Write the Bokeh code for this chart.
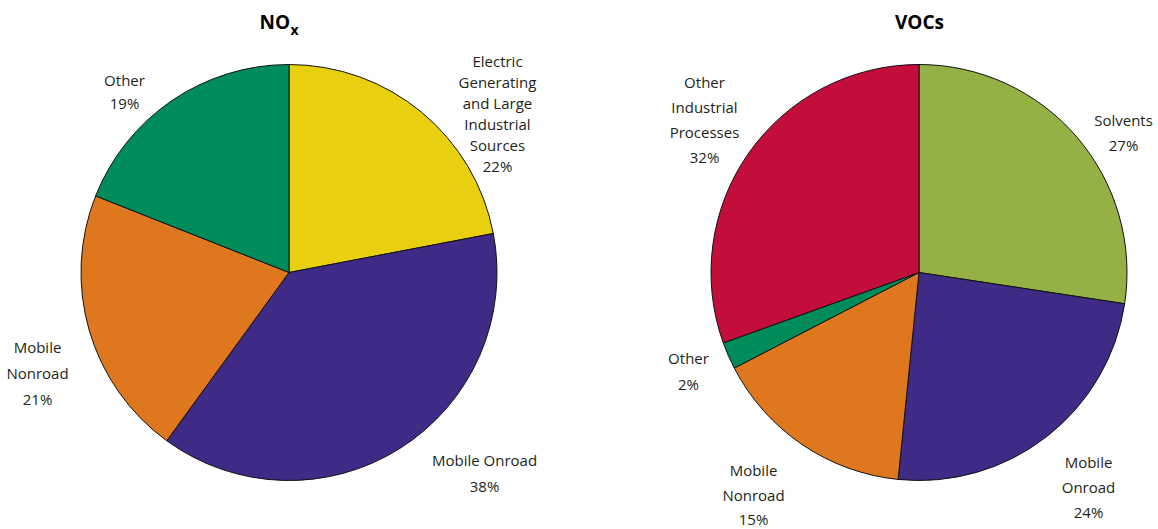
import math
from bokeh.plotting import figure
from bokeh.models import Range1d, ColumnDataSource
from bokeh.core.properties import value
from bokeh.embed import file_html
from bokeh.resources import INLINE

W, H = 1158, 529

# ---- data ----
nox_categories = ["Electric Generating and Large Industrial Sources", "Mobile Onroad", "Mobile Nonroad", "Other"]
nox_shares = [22, 38, 21, 19]
nox_labels = ["22%", "38%", "21%", "19%"]
nox_colors = ["#E8D010", "#3F2A86", "#DE771D", "#008C5A"]

voc_categories = ["Solvents", "Mobile Onroad", "Mobile Nonroad", "Other", "Other Industrial Processes"]
voc_shares = [27.4, 24.2, 15.8, 2.1, 30.5]   # slice sizes as drawn
voc_labels = ["27%", "24%", "15%", "2%", "32%"]
voc_colors = ["#93B145", "#3F2A86", "#DE771D", "#008C5A", "#C30D3B"]

FONT = "Open Sans"

p = figure(width=W, height=H, x_range=Range1d(0, W), y_range=Range1d(0, H),
           output_backend="svg", toolbar_location=None, min_border=0)
p.axis.visible = False
p.grid.visible = False
p.outline_line_color = None
p.background_fill_color = "white"
p.border_fill_color = "white"


def Y(px):
    return H - px


def draw_pie(cx, cy, r, shares, colors):
    total = float(sum(shares))
    starts, ends = [], []
    cum = 0.0
    for s in shares:
        a0 = math.pi / 2 - 2 * math.pi * (cum + s) / total
        a1 = math.pi / 2 - 2 * math.pi * cum / total
        starts.append(a0)
        ends.append(a1)
        cum += s
    src = ColumnDataSource(dict(x=[cx] * len(shares), y=[Y(cy)] * len(shares),
                                start=starts, end=ends, color=colors))
    p.wedge(x="x", y="y", radius=r, start_angle="start", end_angle="end",
            direction="anticlock", fill_color="color", line_color="#111111",
            line_width=1, source=src)


draw_pie(288.5, 272, 208, nox_shares, nox_colors)
draw_pie(918.5, 272, 208, voc_shares, voc_colors)


def label(lines, x, ys):
    p.text(x=[x] * len(lines), y=[Y(v) for v in ys], text=lines,
           text_font=value(FONT), text_font_size="15px", text_color="#231F20",
           text_align="center", text_baseline="middle")


# NOx labels
label(["Electric", "Generating", "and Large", "Industrial", "Sources", nox_labels[0]],
      497, [60, 81, 102, 123, 144, 165])
label(["Mobile Onroad", nox_labels[1]], 484, [459, 485])
label(["Mobile", "Nonroad", nox_labels[2]], 37, [346, 372, 398])
label(["Other", nox_labels[3]], 124, [79, 102])

# VOC labels
label(["Solvents", voc_labels[0]], 1123, [119, 144])
label(["Mobile", "Onroad", voc_labels[1]], 1088, [461, 486, 511])
label(["Mobile", "Nonroad", voc_labels[2]], 753, [469, 494, 518])
label(["Other", voc_labels[3]], 688, [357, 383])
label(["Other", "Industrial", "Processes", voc_labels[4]], 704, [81, 106, 131, 156])

# titles
p.text(x=[289.5], y=[Y(21)], text=["NO"], text_font=value(FONT), text_font_style="bold",
       text_font_size="19px", text_color="black", text_align="right", text_baseline="middle")
p.text(x=[290], y=[Y(29)], text=["x"], text_font=value(FONT), text_font_style="bold",
       text_font_size="14px", text_color="black", text_align="left", text_baseline="middle")
p.text(x=[919], y=[Y(21)], text=["VOCs"], text_font=value(FONT), text_font_style="bold",
       text_font_size="19px", text_color="black", text_align="center", text_baseline="middle")

open("out.html", "w").write(file_html(p, INLINE))
